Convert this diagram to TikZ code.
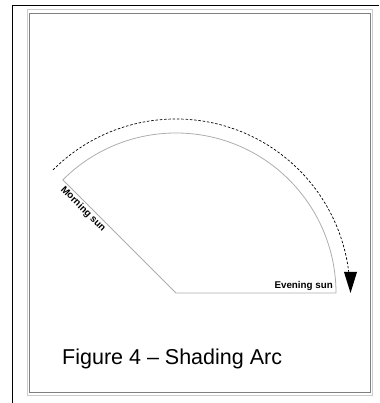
\documentclass[tikz,border=0pt]{standalone}
\usepackage{fontspec}
\setmainfont{Liberation Sans}
\begin{document}
\begin{tikzpicture}[x=1pt,y=1pt,
  sector/.style={draw=black!32, line width=0.8pt},
  sunpath/.style={draw=black, dashed, dash pattern=on 2.5pt off 1.8pt, line width=0.7pt},
  lbl/.style={font=\fontsize{9.8}{12}\selectfont\bfseries, inner sep=1pt}]
\useasboundingbox (0,0) rectangle (379,403);
% outer black lines
\draw[line width=1.2pt] (12.5,0) -- (12.5,397.5) -- (379,397.5);
% inner frame
\draw[draw=black!20, line width=0.8pt] (27,8) rectangle (372.3,393.5);
\draw[draw=black!50, line width=1.3pt] (29.8,10.5) rectangle (370.5,389.5);
% sector
\coordinate (C) at (176,110);
\path (C) ++(135:160) coordinate (M);
\path (C) ++(0:160) coordinate (E);
\draw[sector] (M) arc[start angle=135, end angle=0, radius=160] -- (C) -- cycle;
% dashed sun path
\path (C) ++(135:174) coordinate (D1);
\draw[sunpath] (D1) arc[start angle=135, end angle=7, radius=174] coordinate (D2);
\fill (344,131) -- (357,131) -- (350.5,110) -- cycle;
% labels
\node[lbl, rotate=-45, anchor=north west] (ms) at (65.5,219.5) {Morning sun};
\node[lbl, anchor=base east] (es) at (334,114) {Evening sun};
\node[font=\fontsize{21.5}{24}\selectfont, anchor=base west, inner sep=0pt] (cap) at (62,38) {Figure 4 – Shading Arc};
\end{tikzpicture}
\end{document}
